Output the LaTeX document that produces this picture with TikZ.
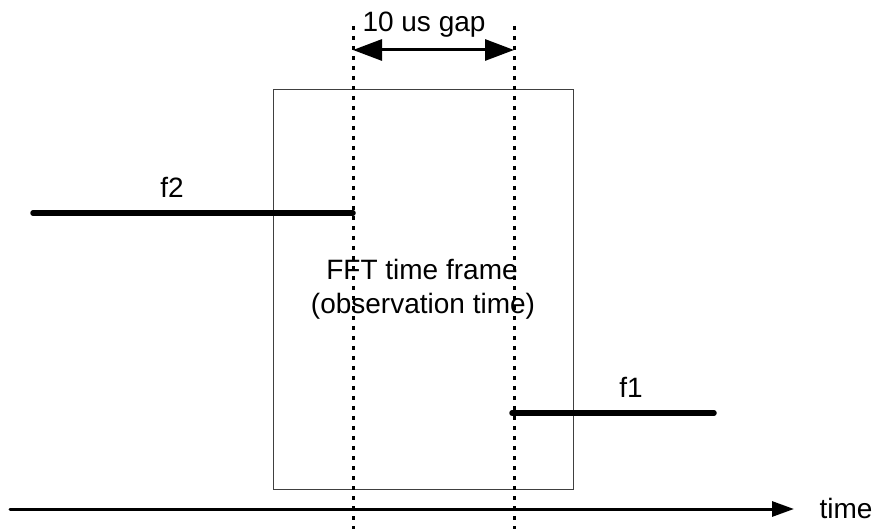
\documentclass[tikz,border=0pt]{standalone}
\usepackage{fontspec}
\setmainfont{Liberation Sans}
\usetikzlibrary{arrows.meta}
\begin{document}
\begin{tikzpicture}[x=1pt,y=-1pt,
  lbl/.style={font=\fontsize{28}{34}\selectfont, inner sep=0pt, anchor=base},
  sigline/.style={line width=5.5pt, line cap=round},
  marker/.style={line width=3pt, dash pattern=on 4pt off 6pt},
  framebox/.style={draw=black!75, line width=1pt}]
\useasboundingbox (0,0) rectangle (876,529);
% frame
\draw[framebox] (273,90) rectangle (573,489);
% dotted markers
\coordinate (m1t) at (353,26);
\coordinate (m1b) at (353,529);
\coordinate (m2t) at (514,26);
\coordinate (m2b) at (514,529);
\draw[marker] (m1t) -- (m1b);
\draw[marker] (m2t) -- (m2b);
% gap arrow
\coordinate (g1) at (353,50);
\coordinate (g2) at (514,50);
\draw[line width=3pt, {Triangle[length=29pt,width=21pt]}-{Triangle[length=29pt,width=21pt]}] (g1) -- (g2);
\node[lbl] (gap) at (424,32) {10 us gap};
% signals
\coordinate (f2a) at (33,213);
\coordinate (f2b) at (353,213);
\draw[sigline] (f2a) -- (f2b);
\node[lbl] (f2) at (172,198) {f2};
\coordinate (f1a) at (512,413);
\coordinate (f1b) at (714,413);
\draw[sigline] (f1a) -- (f1b);
\node[lbl] (f1) at (631,398) {f1};
% FFT text
\node[lbl] (fft1) at (422,280) {FFT time frame};
\node[lbl] (fft2) at (423,314) {(observation time)};
% time axis
\coordinate (ta) at (10,509);
\coordinate (tb) at (794,509);
\draw[line width=3pt, line cap=round, -{Triangle[length=22pt,width=15pt]}] (ta) -- (tb);
\node[lbl] (time) at (846,518) {time};
\end{tikzpicture}
\end{document}
